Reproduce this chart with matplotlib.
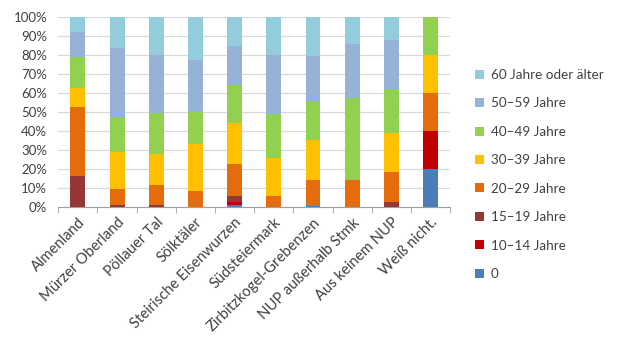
import numpy as np
import matplotlib
matplotlib.use("Agg")
import matplotlib.pyplot as plt
from matplotlib.patches import Patch

plt.rcParams['font.family'] = ['Lato', 'DejaVu Sans']

# Regionen (Naturparke) und Altersgruppen
regions = ["Almenland", "Mürzer Oberland", "Pöllauer Tal", "Sölktäler",
           "Steirische Eisenwurzen", "Südsteiermark", "Zirbitzkogel-Grebenzen",
           "NUP außerhalb Stmk", "Aus keinem NUP", "Weiß nicht."]
groups = ["0", "10–14 Jahre", "15–19 Jahre", "20–29 Jahre", "30–39 Jahre",
          "40–49 Jahre", "50–59 Jahre", "60 Jahre oder älter"]
colors = ["#4A7EBB", "#C00000", "#953735", "#E46C0A", "#FFC000",
          "#92D050", "#95B3D7", "#93CDDD"]

# Anteile in Prozent je Altersgruppe, Reihenfolge wie regions
age_0     = [0, 0, 0, 0, 0.9, 0, 0.8, 0, 0, 20]
age_10_14 = [0, 0, 0, 0, 1.7, 0, 0, 0, 0, 20]
age_15_19 = [16.2, 1.3, 1.2, 0, 3.2, 0, 0, 0, 2.5, 0]
age_20_29 = [36.6, 8.0, 10.3, 8.3, 16.7, 5.6, 13.7, 14.3, 15.8, 20]
age_30_39 = [10.0, 19.7, 16.3, 24.8, 21.7, 20.3, 20.7, 0, 20.6, 20]
age_40_49 = [15.9, 18.0, 21.5, 17.1, 19.9, 23.0, 20.1, 42.9, 23.2, 20]
age_50_59 = [13.5, 36.6, 30.8, 26.9, 20.4, 30.8, 24.3, 28.6, 25.5, 0]
age_60    = [7.8, 16.4, 19.9, 22.9, 15.5, 20.3, 20.4, 14.3, 12.4, 0]

series = [age_0, age_10_14, age_15_19, age_20_29, age_30_39,
          age_40_49, age_50_59, age_60]

fig = plt.figure(figsize=(6.2, 3.44), dpi=100)
ax = fig.add_axes([0.094, 0.398, 0.632, 0.553])

x = np.arange(len(regions))
bottom = np.zeros(len(regions))
for vals, col in zip(series, colors):
    vals = np.array(vals, dtype=float)
    ax.bar(x, vals, bottom=bottom, width=0.38, color=col, zorder=3)
    bottom += vals

ax.set_xlim(-0.5, len(regions) - 0.5)
ax.set_ylim(0, 100)
ax.set_yticks(np.arange(0, 101, 10))
ax.set_yticklabels([f"{v}%" for v in range(0, 101, 10)], fontsize=9.5, color="#404040")
ax.yaxis.grid(True, color="#D9D9D9", linewidth=0.9, zorder=0)
ax.tick_params(axis="y", length=0, pad=8)

ax.set_xticks(x)
ax.set_xticklabels(regions, rotation=45, ha="right", rotation_mode="anchor",
                   fontsize=10.6, color="#404040")
ax.set_xticks(np.arange(-0.5, len(regions), 1), minor=True)
ax.tick_params(axis="x", which="major", length=0, pad=6)
ax.tick_params(axis="x", which="minor", length=4, color="#A0A0A0", direction="out")

for s in ["top", "right", "left"]:
    ax.spines[s].set_visible(False)
ax.spines["bottom"].set_color("#A0A0A0")

handles = [Patch(facecolor=c, label=g) for g, c in zip(groups, colors)][::-1]
fig.legend(handles=handles, loc="upper left", bbox_to_anchor=(0.747, 0.835),
           frameon=False, fontsize=9.7, handlelength=0.65, handleheight=0.65,
           handletextpad=0.5, labelspacing=1.22, labelcolor="#404040")

fig.savefig("out.png", dpi=100)
